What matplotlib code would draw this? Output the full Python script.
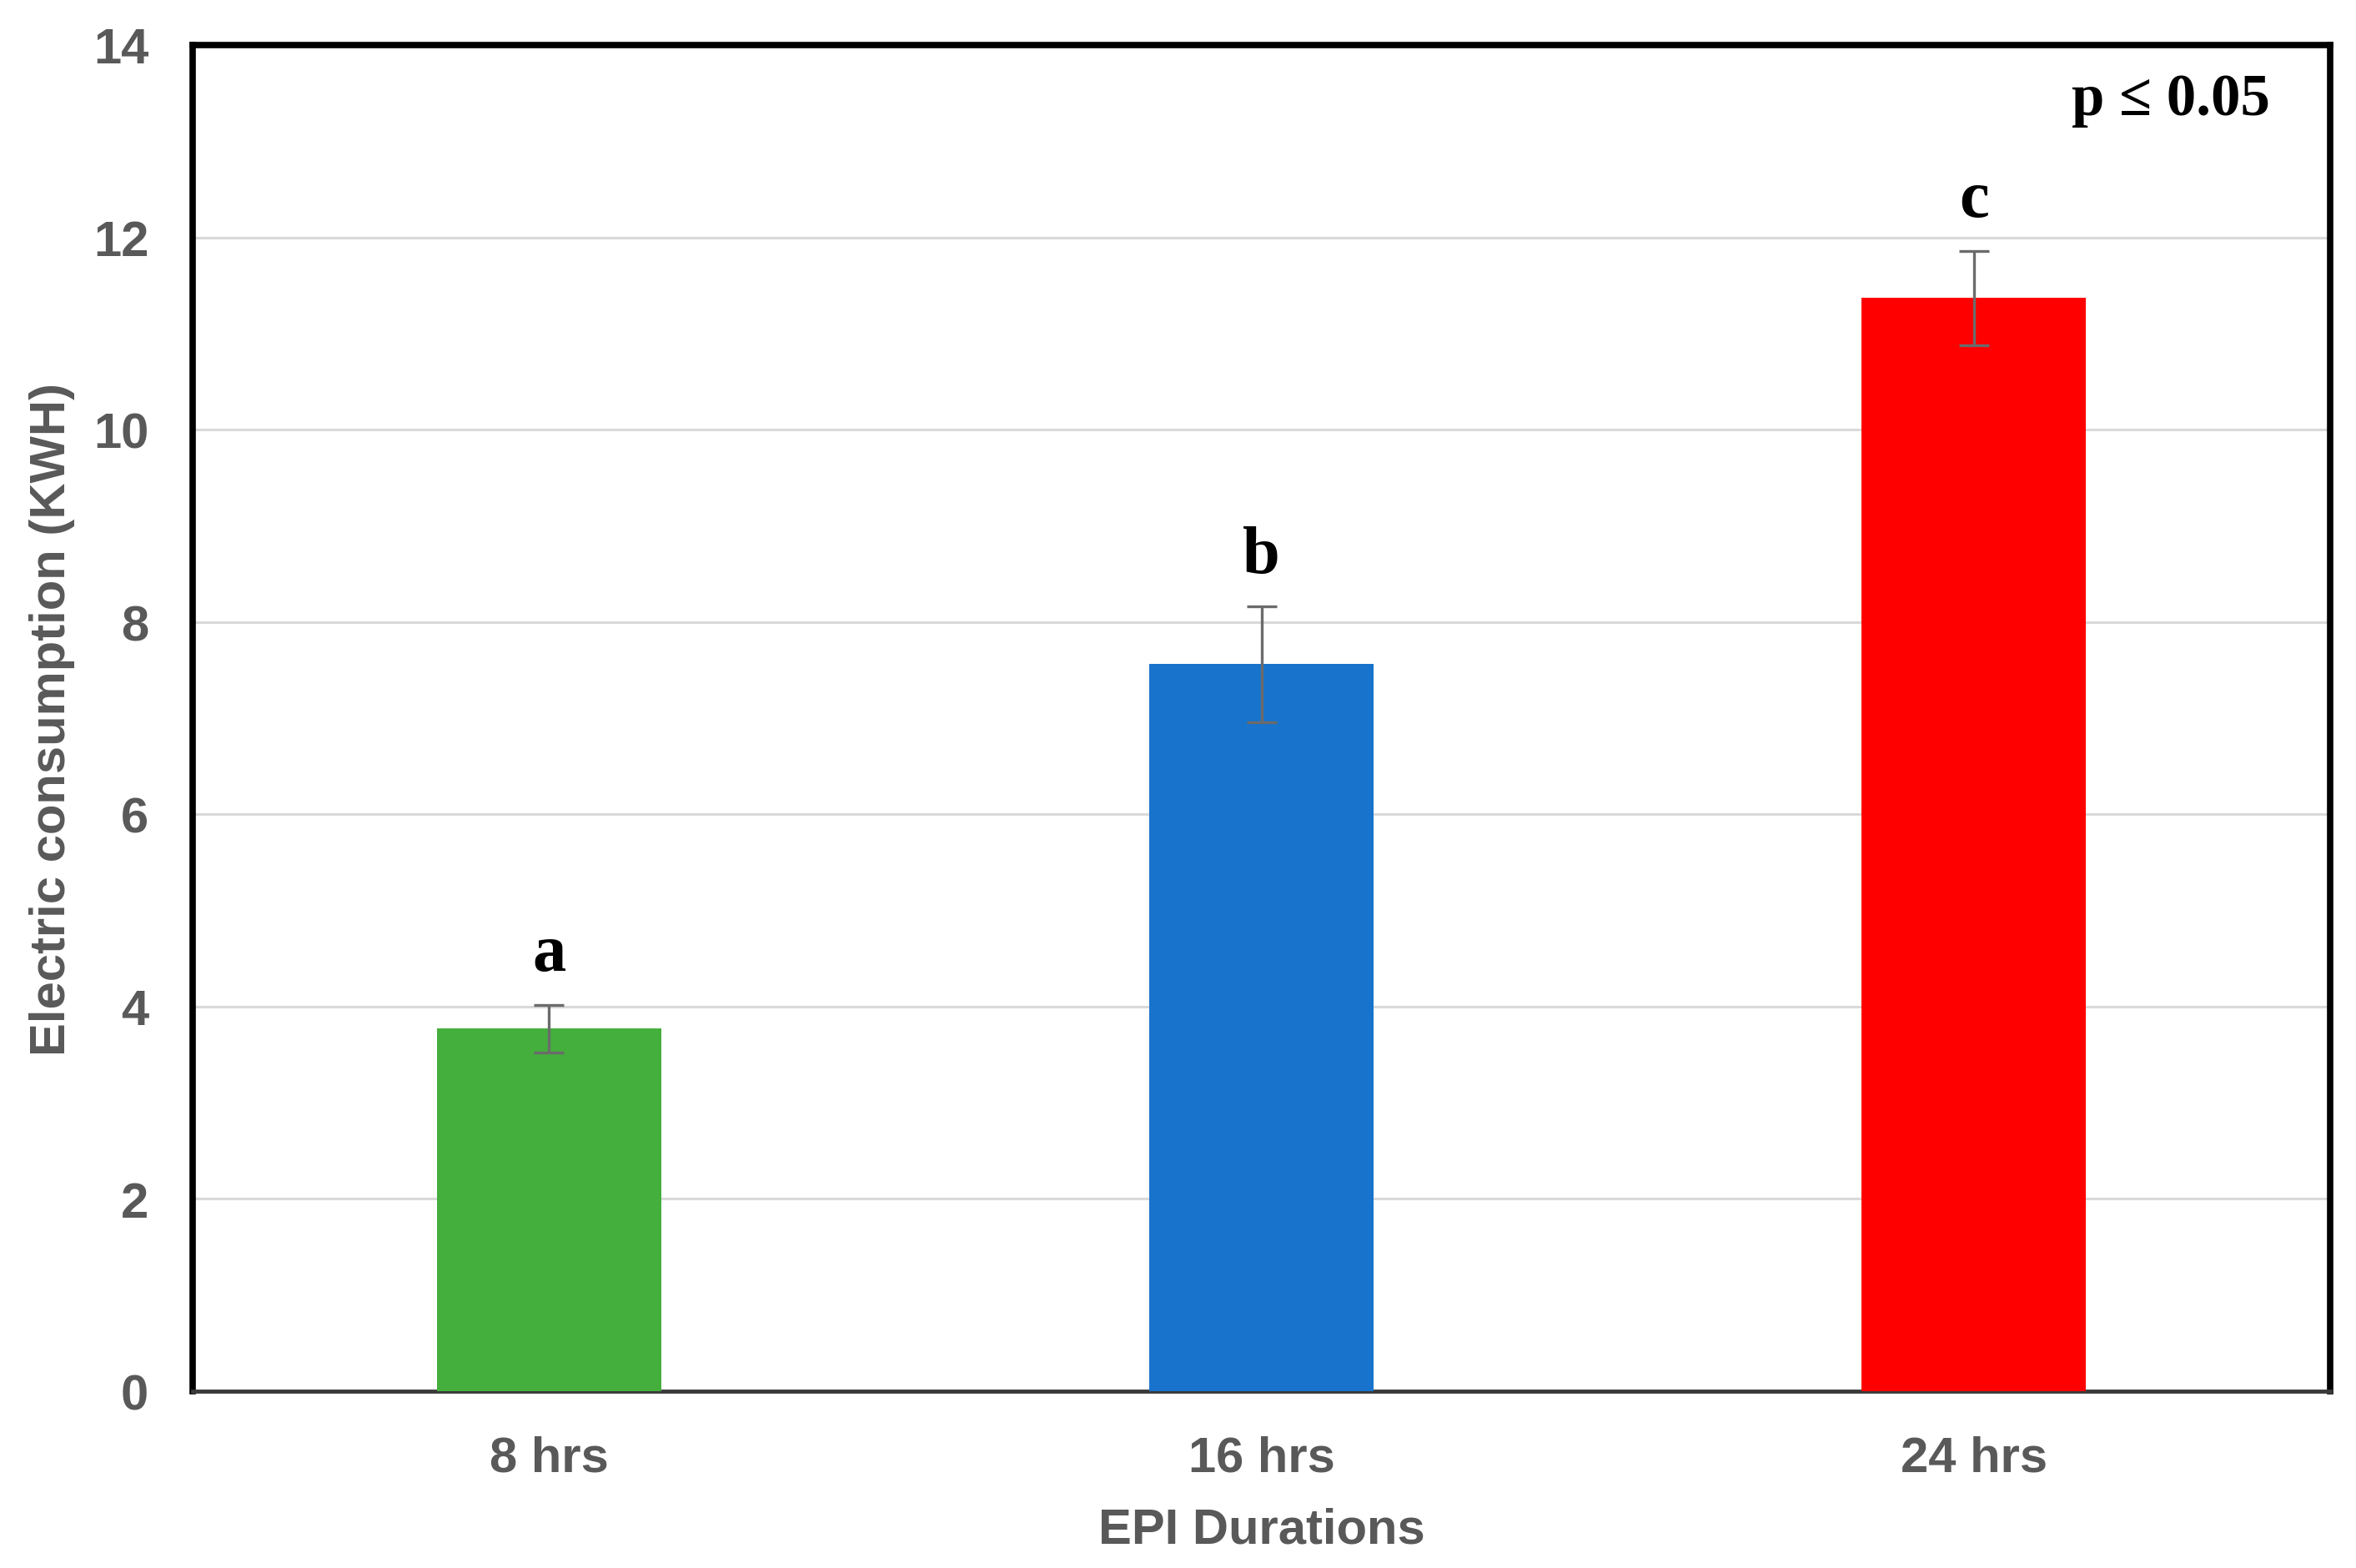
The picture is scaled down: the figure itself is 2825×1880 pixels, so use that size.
import matplotlib
matplotlib.use("Agg")
import matplotlib.pyplot as plt

categories = ["8 hrs", "16 hrs", "24 hrs"]
values = [3.77, 7.56, 11.37]
errors = [0.25, 0.60, 0.49]
letters = ["a", "b", "c"]
bar_colors = ["#44AF3C", "#1873CC", "#FF0000"]
yticks = [0, 2, 4, 6, 8, 10, 12, 14]

W, H = 2825, 1881
fig = plt.figure(figsize=(W / 100, H / 100), dpi=100)
ax = fig.add_axes([231 / W, 1 - 1669 / H, (2794 - 231) / W, (1669 - 55) / H])

x = list(range(len(categories)))
ax.bar(x, values, width=0.315, color=bar_colors, zorder=3)
ax.errorbar(x, values, yerr=errors, fmt="none", ecolor="#6b6b6b",
            elinewidth=2.4, capsize=13, capthick=2.4, zorder=4)

sans = ["Liberation Sans", "DejaVu Sans"]
serif = ["Liberation Serif", "DejaVu Serif"]
gray = "#595959"

for xi, v, e, t in zip(x, values, errors, letters):
    ax.text(xi, v + e + 0.36, t, ha="center", va="baseline",
            fontsize=58, fontweight="bold", family=serif, color="black", zorder=5)

ax.text(0.972, 0.9486, "p \u2264 0.05", transform=ax.transAxes, ha="right",
        va="baseline", fontsize=51, fontweight="bold", family=serif, color="black")

ax.set_xlim(-0.5, 2.5)
ax.set_ylim(0, 14)
ax.set_yticks(yticks)
ax.set_xticks(x)
ax.set_xticklabels(categories)
ax.yaxis.grid(True, color="#d9d9d9", linewidth=2.2, zorder=0)
ax.set_axisbelow(True)
ax.tick_params(axis="both", length=0, labelsize=43, colors=gray)
ax.tick_params(axis="y", pad=38)
ax.tick_params(axis="x", pad=38)
for lab in ax.get_xticklabels() + ax.get_yticklabels():
    lab.set_fontweight("bold")
    lab.set_family(sans)

ax.set_xlabel("EPI Durations", fontsize=43, fontweight="bold", family=sans,
              color=gray, labelpad=22)
ax.set_ylabel("Electric consumption (KWH)", fontsize=43, fontweight="bold",
              family=sans, color=gray, labelpad=16)

for s in ["left", "top", "right"]:
    ax.spines[s].set_color("black")
    ax.spines[s].set_linewidth(5.5)
ax.spines["bottom"].set_color("#3a3a3a")
ax.spines["bottom"].set_linewidth(3.5)

fig.savefig("out.png", dpi=100, facecolor="white")
